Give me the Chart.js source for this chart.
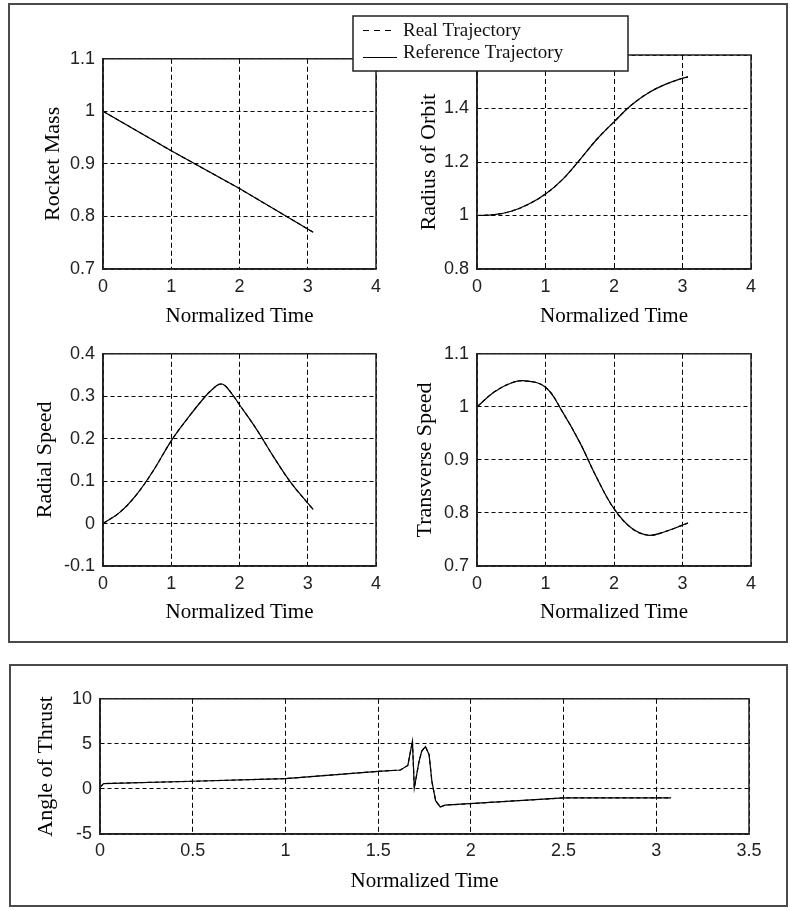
<!DOCTYPE html>
<html>
<head>
<meta charset="utf-8">
<style>
  body { margin: 0; background: #fff; }
  #page { position: relative; width: 790px; height: 910px; background: #fff; overflow: hidden; }
  .frame { position: absolute; border: 2px solid #4a4a4a; box-sizing: border-box; }
  canvas { position: absolute; }
</style>
</head>
<body>
<div id="page">
  <div class="frame" style="left:8px;top:3px;width:780px;height:640px"></div>
  <div class="frame" style="left:9px;top:664px;width:779px;height:243px"></div>
  <canvas id="mass" width="390" height="300" style="left:12px;top:40px"></canvas>
  <canvas id="radius" width="440" height="330" style="left:340px;top:10px"></canvas>
  <canvas id="radial" width="390" height="300" style="left:12px;top:335px"></canvas>
  <canvas id="transverse" width="380" height="300" style="left:400px;top:335px"></canvas>
  <canvas id="thrust" width="770" height="222" style="left:12px;top:680px"></canvas>
</div>

<script src="https://cdn.jsdelivr.net/npm/chart.js"></script>
<script>
    // values (normalized time on x)
    const seriesLabels = ['Real Trajectory', 'Reference Trajectory'];
    const xTitle = 'Normalized Time';

    const massTime = [0, 1, 2, 3.08];
    const massValues = [1.0, 0.925, 0.853, 0.77];

    const radiusTime = [0, 0.25, 0.5, 0.75, 1, 1.25, 1.5, 1.75, 2, 2.25, 2.5, 2.75, 3, 3.08];
    const radiusValues = [1.0, 1.003, 1.016, 1.042, 1.08, 1.135, 1.208, 1.285, 1.35, 1.412, 1.458, 1.49, 1.513, 1.518];

    const radialTime = [0, 0.25, 0.5, 0.75, 1, 1.25, 1.5, 1.6, 1.7, 1.78, 1.9, 2, 2.25, 2.5, 2.75, 3, 3.08];
    const radialValues = [0, 0.027, 0.07, 0.128, 0.195, 0.25, 0.3, 0.316, 0.328, 0.326, 0.303, 0.28, 0.222, 0.157, 0.097, 0.048, 0.033];

    const transverseTime = [0, 0.25, 0.5, 0.7, 1, 1.25, 1.5, 1.75, 2, 2.25, 2.5, 2.75, 3, 3.08];
    const transverseValues = [1.0, 1.028, 1.045, 1.049, 1.037, 0.99, 0.933, 0.866, 0.808, 0.772, 0.758, 0.765, 0.777, 0.781];

    const thrustTime = [0, 0.02, 0.5, 1, 1.5, 1.62, 1.66, 1.685, 1.695, 1.72, 1.735, 1.755, 1.775, 1.79, 1.81, 1.835, 1.86, 2.5, 3.08];
    const thrustValues = [0.2, 0.6, 0.85, 1.15, 1.95, 2.1, 2.6, 5.3, 0.1, 3.0, 4.2, 4.7, 3.8, 0.8, -1.3, -2.0, -1.8, -1.0, -1.0];

    const pts = (t, v) => t.map((x, i) => ({x: x, y: v[i]}));

    // matlab style labels: 1 instead of 1.0
    const plainTick = v => String(Math.round(v * 100) / 100);

    // solid box round the plot area, like matlab's "box on"
    const boxPlugin = {
        id: 'box',
        afterDraw(chart) {
            const a = chart.chartArea;
            const ctx = chart.ctx;
            ctx.save();
            ctx.strokeStyle = '#222';
            ctx.lineWidth = 1.5;
            ctx.strokeRect(a.left, a.top, a.right - a.left, a.bottom - a.top);
            ctx.restore();
        }
    };

    // the shared legend box that sits across the two top plots
    const legendPlugin = {
        id: 'legendBox',
        afterDraw(chart) {
            const ctx = chart.ctx;
            const ds = chart.data.datasets;
            ctx.save();
            ctx.fillStyle = '#fff';
            ctx.fillRect(13, 6, 275, 55);
            ctx.strokeStyle = '#222';
            ctx.lineWidth = 1.5;
            ctx.strokeRect(13, 6, 275, 55);

            ctx.strokeStyle = '#000';
            ctx.lineWidth = 1.2;
            ctx.setLineDash([6, 5]);
            ctx.beginPath(); ctx.moveTo(23, 20.5); ctx.lineTo(54, 20.5); ctx.stroke();
            ctx.setLineDash([]);
            ctx.beginPath(); ctx.moveTo(23, 47.5); ctx.lineTo(57, 47.5); ctx.stroke();

            ctx.fillStyle = '#111';
            ctx.font = '19px "Liberation Serif"';
            ctx.textBaseline = 'alphabetic';
            ctx.fillText(ds[0].label, 63, 26);
            ctx.fillText(ds[1].label, 63, 47.5);
            ctx.restore();
        }
    };

    function makeChart(id, o) {
        const data = pts(o.time, o.values);
        return new Chart(document.getElementById(id), {
            type: 'line',
            data: {
                datasets: [{
                    label: seriesLabels[0],
                    data: data,
                    borderColor: '#000',
                    borderWidth: 1.2,
                    borderDash: [4, 3],
                    pointRadius: 0,
                    tension: o.tension,
                    fill: false,
                }, {
                    label: seriesLabels[1],
                    data: data,
                    borderColor: '#000',
                    borderWidth: 1.2,
                    pointRadius: 0,
                    tension: o.tension,
                    fill: false,
                }]
            },
            options: {
                responsive: false,
                animation: false,
                layout: {
                    padding: {top: o.padTop, right: o.padRight, bottom: 0, left: 0}
                },
                plugins: {
                    legend: { display: false },
                    tooltip: { enabled: false }
                },
                scales: {
                    x: {
                        type: 'linear',
                        min: 0,
                        max: o.xMax,
                        afterFit: s => { s.height = o.xHeight; },
                        grid: { color: '#000', lineWidth: 1, drawTicks: false },
                        border: { display: true, color: '#222', width: 1.5, dash: [5, 3] },
                        ticks: {
                            stepSize: o.xStep,
                            autoSkip: false,
                            maxRotation: 0,
                            padding: o.xTickPad,
                            color: '#222',
                            callback: plainTick,
                            font: { family: '"Liberation Sans"', size: 18 }
                        },
                        title: {
                            display: true,
                            text: xTitle,
                            color: '#000',
                            padding: { top: 0, bottom: o.xTitlePad },
                            font: { family: '"Liberation Serif"', size: 21, lineHeight: 1 }
                        }
                    },
                    y: {
                        type: 'linear',
                        min: o.yMin,
                        max: o.yMax,
                        afterFit: s => { s.width = o.yWidth; },
                        grid: { color: '#000', lineWidth: 1, drawTicks: false },
                        border: { display: true, color: '#222', width: 1.5, dash: [4, 3] },
                        ticks: {
                            stepSize: o.yStep,
                            autoSkip: false,
                            padding: 8,
                            color: '#222',
                            callback: plainTick,
                            font: { family: '"Liberation Sans"', size: 18 }
                        },
                        title: {
                            display: true,
                            text: o.yTitle,
                            color: '#000',
                            padding: { top: o.yTitlePad, bottom: 0 },
                            font: { family: '"Liberation Serif"', size: 22, lineHeight: 1 }
                        }
                    }
                }
            },
            plugins: o.legend ? [boxPlugin, legendPlugin] : [boxPlugin]
        });
    }

    makeChart('mass', {
        time: massTime, values: massValues, yTitle: 'Rocket Mass', tension: 0,
        xMax: 4, xStep: 1, yMin: 0.7, yMax: 1.1, yStep: 0.1,
        padTop: 15, padRight: 26, yWidth: 91, xHeight: 71,
        xTickPad: 7, xTitlePad: 13, yTitlePad: 30
    });

    makeChart('radius', {
        time: radiusTime, values: radiusValues, yTitle: 'Radius of Orbit', tension: 0.4,
        xMax: 4, xStep: 1, yMin: 0.8, yMax: 1.6, yStep: 0.2,
        padTop: 45, padRight: 29, yWidth: 137, xHeight: 71,
        xTickPad: 7, xTitlePad: 13, yTitlePad: 78, legend: true
    });

    makeChart('radial', {
        time: radialTime, values: radialValues, yTitle: 'Radial Speed', tension: 0.4,
        xMax: 4, xStep: 1, yMin: -0.1, yMax: 0.4, yStep: 0.1,
        padTop: 14, padRight: 26, yWidth: 91, xHeight: 69,
        xTickPad: 7, xTitlePad: 12, yTitlePad: 22
    });

    makeChart('transverse', {
        time: transverseTime, values: transverseValues, yTitle: 'Transverse Speed', tension: 0.4,
        xMax: 4, xStep: 1, yMin: 0.7, yMax: 1.1, yStep: 0.1,
        padTop: 14, padRight: 29, yWidth: 77, xHeight: 69,
        xTickPad: 7, xTitlePad: 12, yTitlePad: 14
    });

    makeChart('thrust', {
        time: thrustTime, values: thrustValues, yTitle: 'Angle of Thrust', tension: 0,
        xMax: 3.5, xStep: 0.5, yMin: -5, yMax: 10, yStep: 5,
        padTop: 15, padRight: 33, yWidth: 88, xHeight: 68,
        xTickPad: 6, xTitlePad: 10, yTitlePad: 23
    });
</script>
</body>
</html>
